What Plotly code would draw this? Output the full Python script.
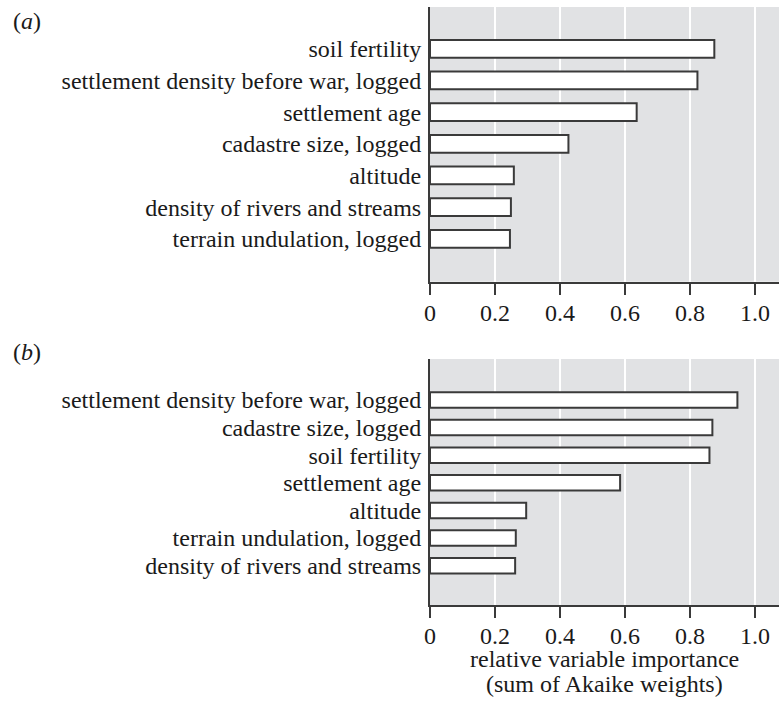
import plotly.graph_objects as go

cats_a = ["soil fertility", "settlement density before war, logged", "settlement age",
          "cadastre size, logged", "altitude", "density of rivers and streams",
          "terrain undulation, logged"]
vals_a = [0.875, 0.823, 0.636, 0.426, 0.258, 0.249, 0.246]

cats_b = ["settlement density before war, logged", "cadastre size, logged", "soil fertility",
          "settlement age", "altitude", "terrain undulation, logged",
          "density of rivers and streams"]
vals_b = [0.946, 0.869, 0.860, 0.585, 0.296, 0.264, 0.262]

x_ticks = [0, 0.2, 0.4, 0.6, 0.8, 1.0]
x_ticklabels = ["0", "0.2", "0.4", "0.6", "0.8", "1.0"]
x_title = ["relative variable importance", "(sum of Akaike weights)"]
panel_labels = ["(<i>a</i>)", "(<i>b</i>)"]

FONT = "Liberation Serif"
BG = "#e1e2e4"
EDGE = "#3a3a3a"
TXT = "#1a1a1a"

fig = go.Figure()
fig.add_trace(go.Bar(x=vals_a, y=cats_a, orientation="h", width=0.56,
                     marker=dict(color="white", line=dict(color=EDGE, width=2)),
                     xaxis="x", yaxis="y", showlegend=False))
fig.add_trace(go.Bar(x=vals_b, y=cats_b, orientation="h", width=0.56,
                     marker=dict(color="white", line=dict(color=EDGE, width=2)),
                     xaxis="x2", yaxis="y2", showlegend=False))

xcommon = dict(range=[0, 1.074], tickmode="array", tickvals=x_ticks, ticktext=x_ticklabels,
               showgrid=True, gridcolor="white", gridwidth=2, zeroline=False,
               showline=True, linecolor=EDGE, linewidth=2,
               ticks="outside", ticklen=11, tickwidth=2, tickcolor=EDGE,
               ticklabelstandoff=-3,
               tickfont=dict(family=FONT, size=24, color=TXT), fixedrange=True)
ycommon = dict(showgrid=False, zeroline=False, showline=True, linecolor=EDGE, linewidth=2,
               ticks="", ticklabelstandoff=2, tickmode="linear", tick0=0, dtick=1,
               tickfont=dict(family=FONT, size=24, color=TXT), fixedrange=True)

fig.update_layout(
    width=779, height=702,
    margin=dict(l=430, r=0, t=7, b=97),
    paper_bgcolor="white", plot_bgcolor=BG,
    font=dict(family=FONT, size=24, color=TXT),
    xaxis=dict(domain=[0, 1], anchor="y", **xcommon),
    xaxis2=dict(domain=[0, 1], anchor="y2", **xcommon),
    yaxis=dict(domain=[0.5406, 1], anchor="x", type="category",
               categoryorder="array", categoryarray=cats_a,
               range=[7.355, -1.32], **ycommon),
    yaxis2=dict(domain=[0, 0.4114], anchor="x2", type="category",
                categoryorder="array", categoryarray=cats_b,
                range=[7.423, -1.484], **ycommon),
)

annotations = [
    dict(text=panel_labels[0], xref="paper", yref="paper", x=-1.156, y=0.9766,
         xanchor="center", yanchor="middle", showarrow=False,
         font=dict(family=FONT, size=24, color=TXT)),
    dict(text=panel_labels[1], xref="paper", yref="paper", x=-1.156, y=0.423,
         xanchor="center", yanchor="middle", showarrow=False,
         font=dict(family=FONT, size=24, color=TXT)),
    dict(text=x_title[0], xref="paper", yref="paper", x=0.5, y=-0.09,
         xanchor="center", yanchor="middle", showarrow=False,
         font=dict(family=FONT, size=24, color=TXT)),
    dict(text=x_title[1], xref="paper", yref="paper", x=0.5, y=-0.1315,
         xanchor="center", yanchor="middle", showarrow=False,
         font=dict(family=FONT, size=24, color=TXT)),
]
fig.update_layout(annotations=annotations)

fig.write_html("out.html", config={"displayModeBar": False},
               post_script="document.body.style.margin='0px';document.body.style.padding='0px';")
